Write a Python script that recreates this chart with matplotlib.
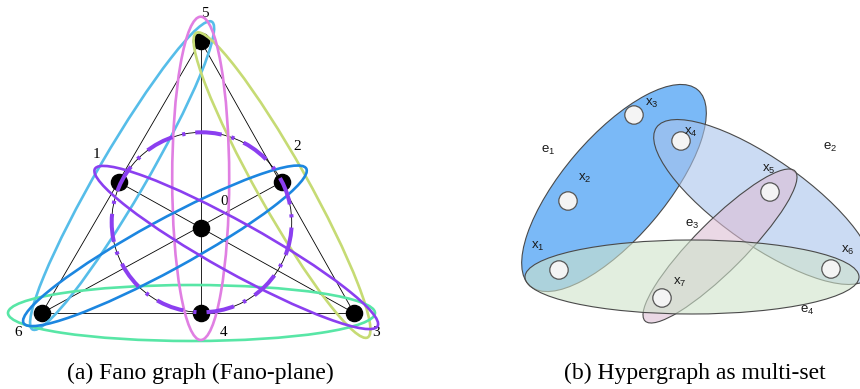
import numpy as np
import matplotlib
matplotlib.use('Agg')
import matplotlib.pyplot as plt
from matplotlib.patches import Ellipse, Circle

plt.rcParams['mathtext.fontset'] = 'custom'
plt.rcParams['mathtext.rm'] = 'Liberation Sans'
plt.rcParams['mathtext.it'] = 'Liberation Sans'

# ---- (a) Fano plane: nodes 0..6 (pixel coords, y down)
fano_names = ['0', '1', '2', '3', '4', '5', '6']
fano_x = [200.7, 118.5, 281.7, 354.0, 200.7, 200.7, 42.0]
fano_y = [227.5, 182.0, 182.0, 313.0, 313.0, 40.7, 313.0]
fano_lbl_x = [224, 96, 297, 376, 224, 205, 18]
fano_lbl_y = [201, 154, 146, 333, 333, 13, 333]

# straight lines of the drawing (triangle + medians)
fano_segments = [(5, 6), (5, 3), (6, 3), (5, 4), (6, 2), (3, 1)]

# lines of the Fano plane drawn as ellipses: (first, middle, last)
fano_lines = [(6, 1, 5), (5, 2, 3), (6, 4, 3), (5, 0, 4), (6, 0, 2), (1, 0, 3)]
line_colors = ['#56bde9', '#c6db74', '#58e6a6', '#e07fe2', '#1c86e0', '#8b3ff0']
pad_start = [19, 9, 34, 24, 21, 27]
pad_end = [22, 28, 21, 27, 28, 27]
half_width = [24, 25, 28, 28.5, 25, 25]

# the 7th line (1, 2, 4) -> circle
circle_line = (1, 2, 4)
circle_c = (201.7, 222.3)
circle_r = 90

# ---- (b) hypergraph
hv_names = ['x$_1$', 'x$_2$', 'x$_3$', 'x$_4$', 'x$_5$', 'x$_6$', 'x$_7$']
hv_x = [559, 568, 634, 681, 770, 831, 662]
hv_y = [270, 201, 115, 141, 192, 269, 298]
hv_lbl_x = [538, 585, 652, 691, 769, 848, 680]
hv_lbl_y = [246, 178, 103, 132, 169, 250, 282]

edge_names = ['e$_1$', 'e$_2$', 'e$_3$', 'e$_4$']
edge_cx = [614, 763, 720, 692]
edge_cy = [188, 202, 246, 277]
edge_a = [129, 130, 106, 167]
edge_b = [51, 43, 25, 37]
edge_ang = [-49.5, 35, -45, 0]
edge_face = ['#7ab9f7', '#a9c4ec', '#dcbed5', '#cfe3cb']
edge_alpha = [1.0, 0.6, 0.6, 0.6]
edge_lbl_x = [548, 830, 692, 807]
edge_lbl_y = [150, 147, 224, 310]

fig = plt.figure(figsize=(8.6, 3.89), dpi=100)
ax = fig.add_axes([0, 0, 1, 1])
ax.set_xlim(0, 860)
ax.set_ylim(389, 0)
ax.axis('off')

# --- left panel
for i, j in fano_segments:
    ax.plot([fano_x[i], fano_x[j]], [fano_y[i], fano_y[j]], color='black', lw=0.6, zorder=1)
ax.add_patch(Circle(circle_c, circle_r, fill=False, ec='black', lw=0.6, zorder=1))

ax.scatter(fano_x, fano_y, s=135, color='black', zorder=3)
for k in range(7):
    ax.text(fano_lbl_x[k], fano_lbl_y[k], fano_names[k], fontsize=11,
            family='Liberation Serif', ha='center', va='center')

for n, (p, q, r) in enumerate(fano_lines):
    x0, y0, x1, y1 = fano_x[p], fano_y[p], fano_x[r], fano_y[r]
    d = np.hypot(x1 - x0, y1 - y0)
    ux, uy = (x1 - x0) / d, (y1 - y0) / d
    sx, sy = x0 - ux * pad_start[n], y0 - uy * pad_start[n]
    ex, ey = x1 + ux * pad_end[n], y1 + uy * pad_end[n]
    ang = np.degrees(np.arctan2(uy, ux))
    ell = Ellipse(((sx + ex) / 2, (sy + ey) / 2), np.hypot(ex - sx, ey - sy), 2 * half_width[n],
                  angle=ang, fill=False, ec=line_colors[n], lw=1.9, zorder=4)
    ax.add_patch(ell)

# dashed purple overlay on the circle line
ax.add_patch(Circle(circle_c, circle_r, fill=False, ec='#8b3ff0', lw=2.9,
                    ls=(2, (7, 2.5, 0.8, 2.5)), capstyle='butt', zorder=5))

# --- right panel
for k in range(4):
    ax.add_patch(Ellipse((edge_cx[k], edge_cy[k]), 2 * edge_a[k], 2 * edge_b[k], angle=edge_ang[k],
                         fc=matplotlib.colors.to_rgba(edge_face[k], edge_alpha[k]),
                         ec='#4a4a4a', lw=0.8, zorder=2))
    ax.text(edge_lbl_x[k], edge_lbl_y[k], edge_names[k], fontsize=9.5,
            family='Liberation Sans', ha='center', va='center', color='#1a1a1a')

for k in range(7):
    ax.add_patch(Circle((hv_x[k], hv_y[k]), 9.2, fc='#f4f4f4', ec='#555555', lw=0.9, zorder=6))
    ax.text(hv_lbl_x[k], hv_lbl_y[k], hv_names[k], fontsize=9.5,
            family='Liberation Sans', ha='center', va='center', color='#1a1a1a', zorder=7)

# captions
ax.text(200, 373, '(a) Fano graph (Fano-plane)', fontsize=17, family='Liberation Serif',
        ha='center', va='center')
ax.text(695, 373, '(b) Hypergraph as multi-set', fontsize=17, family='Liberation Serif',
        ha='center', va='center')

fig.savefig('out.png', dpi=100)
